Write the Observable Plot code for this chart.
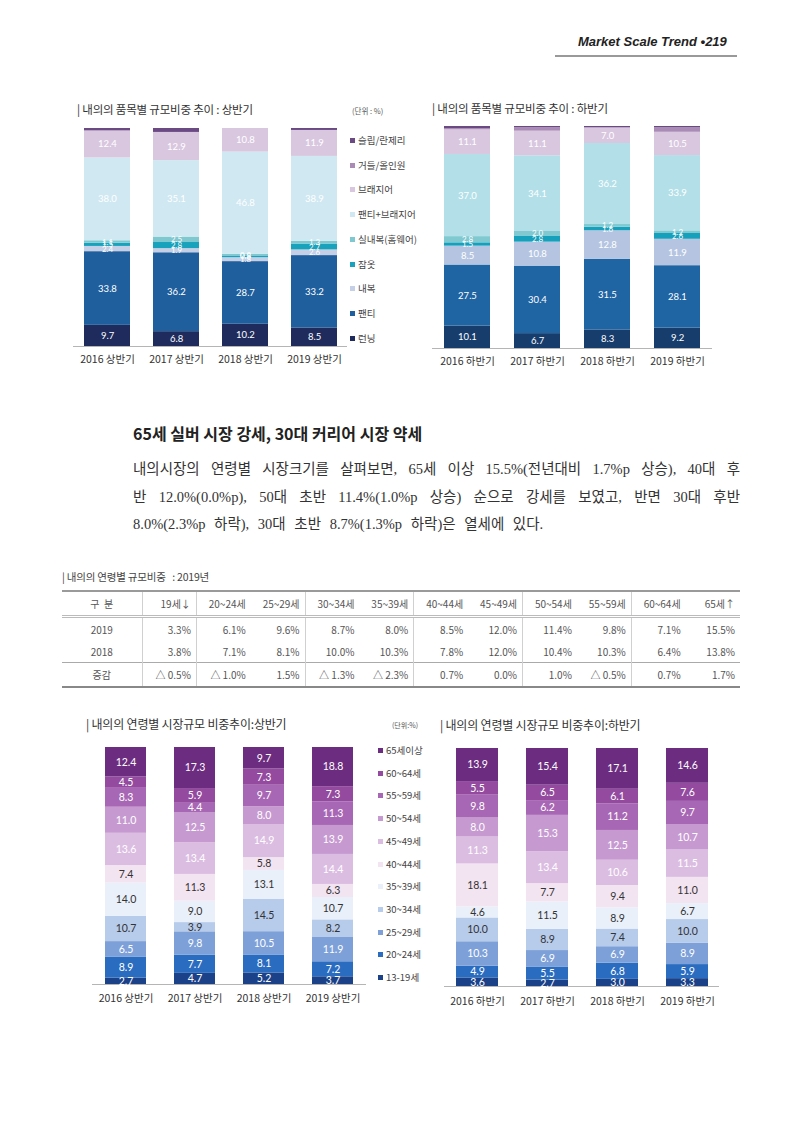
<!DOCTYPE html>
<html>
<head>
<meta charset="utf-8">
<script src="https://cdn.jsdelivr.net/npm/d3@7"></script>
<script src="https://cdn.jsdelivr.net/npm/@observablehq/plot@0.6"></script>
<style>
  html, body { margin:0; padding:0; background:#fff; }
  body { font-family:"Noto Sans CJK KR","Noto Sans",sans-serif; color:#333; }
  #page { position:relative; width:800px; height:1131px; overflow:hidden; background:#fff; }
  .abs { position:absolute; white-space:nowrap; }
  .ctitle { font-size:11.5px; color:#333; letter-spacing:-0.2px; }
  .unit { font-size:7.5px; color:#555; }
  .leg { position:absolute; font-size:9.5px; color:#444; white-space:nowrap; line-height:12px; }
  .leg i { display:inline-block; width:5px; height:5px; margin-right:3px; vertical-align:1px; }
  #body div { position:absolute; left:133px; width:607px; font-family:"Liberation Serif","Noto Sans CJK KR",serif; font-size:14.5px; color:#333; white-space:nowrap; }
  #tbl { position:absolute; left:62px; top:590px; width:678px; border-collapse:collapse; table-layout:fixed;
         font-family:"Liberation Sans Narrow","Noto Sans CJK KR",sans-serif; font-size:10px; color:#555; }
  #tbl td { padding:0 5px 0 0; text-align:right; height:22px; }
  #tbl td:first-child { text-align:center; padding:0; }
  #tbl tr.hd td { height:23px; border-top:2px solid #9a9a9a; border-bottom:3px double #bbb; }
  #tbl tr.last td { height:23px; border-top:1px solid #aaa; border-bottom:2px solid #888; }
  #tbl td.vl { border-left:1px solid #d0d0d0; }
</style>
</head>
<body>
<div id="page">
  <div class="abs" style="left:578px;top:34px;font-family:'Liberation Sans',sans-serif;font-weight:bold;font-style:italic;font-size:13px;color:#222;">Market Scale Trend •219</div>
  <div class="abs" style="left:555px;top:55px;width:182px;height:2px;background:#999;"></div>

  <div class="abs ctitle" style="left:77px;top:101px;">| 내의의 품목별 규모비중 추이 : 상반기</div>
  <div class="abs unit" style="left:352px;top:105px;">(단위 : %)</div>
  <div class="abs ctitle" style="left:432px;top:100px;">| 내의의 품목별 규모비중 추이 : 하반기</div>

  <div class="abs" style="left:133px;top:421px;font-size:16px;font-weight:bold;color:#222;">65세 실버 시장 강세, 30대 커리어 시장 약세</div>
  <div id="body"></div>

  <div class="abs ctitle" style="left:62px;top:569px;font-size:10.5px;color:#444;">| 내의의 연령별 규모비중 &nbsp;&nbsp;: 2019년</div>
  <table id="tbl"></table>

  <div class="abs ctitle" style="left:86px;top:715px;font-size:12px;">| 내의의 연령별 시장규모 비중추이:상반기</div>
  <div class="abs unit" style="left:392px;top:720px;font-size:7px;">(단위:%)</div>
  <div class="abs ctitle" style="left:440px;top:716px;font-size:12px;">| 내의의 연령별 시장규모 비중추이:하반기</div>
</div>
<script>
// ---------- data ----------
const itemCats = ["런닝","팬티","내복","잠옷","실내복(홈웨어)","팬티+브래지어","브래지어","거들/올인원","슬립/란제리"];
const itemColorsH1 = ["#1e2b5c","#1f5f9d","#c5cfe5","#18a2bc","#7fc8d0","#d0e8f2","#d9c7df","#a98bb5","#6b4a84"];
const itemColorsH2 = ["#173d6d","#1f64a3","#b5c5e1","#16a0bb","#80c9d1","#b3dfe8","#d9c7df","#a98bb5","#6b4a84"];
const yearsH1 = ["2016 상반기","2017 상반기","2018 상반기","2019 상반기"];
const yearsH2 = ["2016 하반기","2017 하반기","2018 하반기","2019 하반기"];
// rows = years, columns follow itemCats (bottom to top)
const itemShareH1 = [
  [9.7, 33.8, 2.4, 1.5, 1.1, 38.0, 12.4, 0.0, 1.1],
  [6.8, 36.2, 1.9, 2.8, 2.5, 35.1, 12.9, 0.0, 1.8],
  [10.2, 28.7, 1.8, 0.8, 0.8, 46.8, 10.8, 0.0, 0.0],
  [8.5, 33.2, 2.6, 2.7, 1.3, 38.9, 11.9, 0.0, 0.9]
];
const itemShareH2 = [
  [10.1, 27.5, 8.5, 1.5, 2.8, 37.0, 11.1, 0.6, 0.9],
  [6.7, 30.4, 10.8, 2.8, 2.0, 34.1, 11.1, 1.6, 0.5],
  [8.3, 31.5, 12.8, 1.6, 1.2, 36.2, 7.0, 0.0, 0.6],
  [9.2, 28.1, 11.9, 2.6, 1.2, 33.9, 10.5, 2.0, 0.6]
];
const itemUnlabeled = ["거들/올인원","슬립/란제리"];

const ageCats = ["13-19세","20~24세","25~29세","30~34세","35~39세","40~44세","45~49세","50~54세","55~59세","60~64세","65세이상"];
const ageColors = ["#1b4189","#2a6cc0","#7da0d8","#b7cbeb","#e9f0fa","#f3e4f2","#dcbde2","#c69ad0","#a867b4","#934a9f","#6c2c80"];
const ageDarkLabel = ["30~34세","35~39세","40~44세"];
const ageShareH1 = [
  [2.7, 8.9, 6.5, 10.7, 14.0, 7.4, 13.6, 11.0, 8.3, 4.5, 12.4],
  [4.7, 7.7, 9.8, 3.9, 9.0, 11.3, 13.4, 12.5, 4.4, 5.9, 17.3],
  [5.2, 8.1, 10.5, 14.5, 13.1, 5.8, 14.9, 8.0, 9.7, 7.3, 9.7],
  [3.7, 7.2, 11.9, 8.2, 10.7, 6.3, 14.4, 13.9, 11.3, 7.3, 18.8]
];
const ageShareH2 = [
  [3.6, 4.9, 10.3, 10.0, 4.6, 18.1, 11.3, 8.0, 9.8, 5.5, 13.9],
  [2.7, 5.5, 6.9, 8.9, 11.5, 7.7, 13.4, 15.3, 6.2, 6.5, 15.4],
  [3.0, 6.8, 6.9, 7.4, 8.9, 9.4, 10.6, 12.5, 11.2, 6.1, 17.1],
  [3.3, 5.9, 8.9, 10.0, 6.7, 11.0, 11.5, 10.7, 9.7, 7.6, 14.6]
];

// table
const tableHeaders = ["19세↓","20~24세","25~29세","30~34세","35~39세","40~44세","45~49세","50~54세","55~59세","60~64세","65세↑"];
const share2019 = [3.3, 6.1, 9.6, 8.7, 8.0, 8.5, 12.0, 11.4, 9.8, 7.1, 15.5];
const share2018 = [3.8, 7.1, 8.1, 10.0, 10.3, 7.8, 12.0, 10.4, 10.3, 6.4, 13.8];
const shareChange = [-0.5, -1.0, 1.5, -1.3, -2.3, 0.7, 0.0, 1.0, -0.5, 0.7, 1.7];

const bodyLines = [
  "내의시장의 연령별 시장크기를 살펴보면, 65세 이상 15.5%(전년대비 1.7%p 상승), 40대 후",
  "반 12.0%(0.0%p), 50대 초반 11.4%(1.0%p 상승) 순으로 강세를 보였고, 반면 30대 후반",
  "8.0%(2.3%p 하락), 30대 초반 8.7%(1.3%p 하락)은 열세에 있다."
];

// ---------- helpers ----------
const page = document.getElementById("page");
const numFont = "Lato, 'Noto Sans CJK KR', sans-serif";

function stackChart(o) {
  const data = [];
  o.years.forEach((yr, i) => o.cats.forEach((c, j) => {
    const v = o.matrix[i][j];
    data.push({year: yr, cat: c, value: v,
      label: (o.hide.includes(c) || v <= 0) ? "" : v.toFixed(1),
      dark: o.dark.includes(c)});
  }));
  const st = (extra) => Plot.stackY({x: "year", y: "value", z: "cat", order: o.cats, offset: "normalize", ...extra});
  const small = d => d.value < o.smallBelow;
  const chart = Plot.plot({
    width: o.width, height: o.height,
    marginTop: o.mt, marginBottom: o.mb, marginLeft: o.ml, marginRight: o.mr,
    x: {domain: o.years, paddingInner: o.pi, paddingOuter: o.po, tickSize: 0, tickPadding: o.tp, label: null},
    y: {axis: null, domain: [0, 1]},
    color: {domain: o.cats, range: o.colors},
    style: {fontFamily: "'Noto Sans CJK KR', sans-serif", fontSize: "10.5px", color: "#333", background: "transparent"},
    marks: [
      Plot.barY(data, Plot.stackY({x: "year", y: "value", fill: "cat", order: o.cats, offset: "normalize"})),
      Plot.ruleY([0], {stroke: "#b5b5b5", strokeWidth: 1}),
      Plot.text(data, st({text: d => (d.dark || small(d)) ? "" : d.label, fill: "white", fontSize: o.fs, fontFamily: numFont})),
      Plot.text(data, st({text: d => (!d.dark && small(d)) ? d.label : "", fill: "white", fontSize: o.fsSmall, fontFamily: numFont})),
      Plot.text(data, st({text: d => d.dark ? d.label : "", fill: "#333", fontSize: o.fs, fontFamily: numFont}))
    ]
  });
  chart.style.position = "absolute";
  chart.style.left = o.left + "px";
  chart.style.top = o.top + "px";
  page.appendChild(chart);
}

function legend(cats, colors, x, yTop, step) {
  const items = cats.map((c, i) => ({c, col: colors[i]})).reverse();
  items.forEach((it, k) => {
    const d = document.createElement("div");
    d.className = "leg";
    d.style.left = x + "px";
    d.style.top = (yTop + k * step - 6) + "px";
    d.innerHTML = `<i style="background:${it.col}"></i>${it.c}`;
    page.appendChild(d);
  });
}

// ---------- charts ----------
stackChart({years: yearsH1, cats: itemCats, matrix: itemShareH1, colors: itemColorsH1, hide: itemUnlabeled, dark: [],
  left: 60, top: 120, width: 300, height: 260, mt: 8, mb: 34, ml: 13, mr: 13, pi: 0.34, po: 0.14, tp: 9, fs: 9.5, fsSmall: 8, smallBelow: 3});
stackChart({years: yearsH2, cats: itemCats, matrix: itemShareH2, colors: itemColorsH2, hide: itemUnlabeled, dark: [],
  left: 420, top: 118, width: 300, height: 260, mt: 8, mb: 30, ml: 12, mr: 8, pi: 0.35, po: 0.15, tp: 9, fs: 9.5, fsSmall: 8, smallBelow: 3});
stackChart({years: yearsH1, cats: ageCats, matrix: ageShareH1, colors: ageColors, hide: [], dark: ageDarkLabel,
  left: 80, top: 740, width: 300, height: 280, mt: 7, mb: 36, ml: 12, mr: 14, pi: 0.41, po: 0.17, tp: 10, fs: 10.5, fsSmall: 10.5, smallBelow: 0});
stackChart({years: yearsH2, cats: ageCats, matrix: ageShareH2, colors: ageColors, hide: [], dark: ageDarkLabel,
  left: 430, top: 740, width: 300, height: 280, mt: 8, mb: 34, ml: 14, mr: 11, pi: 0.40, po: 0.16, tp: 11, fs: 10.5, fsSmall: 10.5, smallBelow: 0});

legend(itemCats, itemColorsH1, 350, 140, 24.7);
legend(ageCats, ageColors, 378, 750, 22.7);

// ---------- body text ----------
const body = document.getElementById("body");
bodyLines.forEach((t, i) => {
  const d = document.createElement("div");
  d.textContent = t;
  d.style.top = (457 + i * 27.5) + "px";
  if (i < bodyLines.length - 1) { d.style.textAlign = "justify"; d.style.textAlignLast = "justify"; d.style.whiteSpace = "normal"; }
  else { d.style.wordSpacing = "5px"; }
  body.appendChild(d);
});

// ---------- table ----------
const tbl = d3.select("#tbl");
const cg = tbl.append("colgroup");
cg.append("col").style("width", "80px");
tableHeaders.forEach(() => cg.append("col").style("width", "54.36px"));
const vlines = new Set([0, 1, 3, 5, 7, 9]);
const fmt = v => v.toFixed(1) + "%";
const fmtChg = v => v < 0 ? "△ " + (-v).toFixed(1) + "%" : v.toFixed(1) + "%";
const rows = [
  {cls: "hd", head: "구  분", cells: tableHeaders},
  {cls: "", head: "2019", cells: share2019.map(fmt)},
  {cls: "", head: "2018", cells: share2018.map(fmt)},
  {cls: "last", head: "증감", cells: shareChange.map(fmtChg)}
];
rows.forEach(r => {
  const tr = tbl.append("tr").attr("class", r.cls);
  tr.append("td").text(r.head).style("white-space", "pre");
  r.cells.forEach((c, i) => tr.append("td").attr("class", vlines.has(i) ? "vl" : null).text(c));
});
</script>
</body>
</html>
